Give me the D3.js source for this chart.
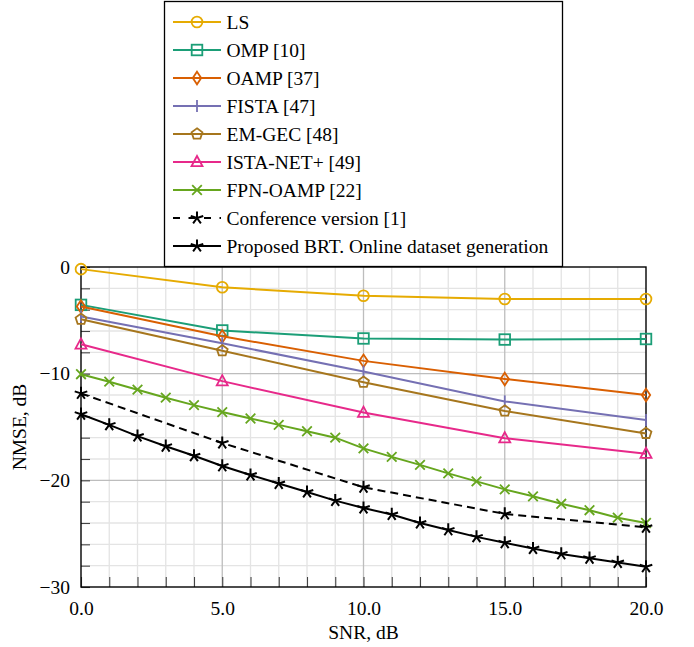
<!DOCTYPE html>
<html>
<head>
<meta charset="utf-8">
<script src="https://cdn.jsdelivr.net/npm/d3@7"></script>
<style>
  html, body { margin: 0; padding: 0; background: #fff; }
  svg text { font-family: "Liberation Serif", "DejaVu Serif", serif; fill: #000; }
</style>
</head>
<body>
<svg id="chart" width="694" height="647"></svg>
<script>
// NMSE versus SNR for the compared channel estimators
const snrCoarse = [0, 5, 10, 15, 20];
const snrFine = d3.range(0, 21, 1);

const lsNmse       = [-0.2, -1.9, -2.7, -3.0, -3.0];
const ompNmse      = [-3.55, -5.95, -6.7, -6.8, -6.75];
const oampNmse     = [-3.7, -6.5, -8.8, -10.5, -12.0];
const fistaNmse    = [-4.65, -7.15, -9.8, -12.6, -14.35];
const emgecNmse    = [-4.9, -7.85, -10.8, -13.5, -15.6];
const istaNetNmse  = [-7.25, -10.7, -13.65, -16.05, -17.5];
const fpnOampNmse  = [-10.05, -10.75, -11.5, -12.25, -12.95, -13.6, -14.2, -14.8, -15.4, -16.0,
                      -17.0, -17.8, -18.55, -19.35, -20.1, -20.85, -21.5, -22.2, -22.8, -23.5, -24.0];
const conferenceNmse = [-11.85, -16.5, -20.65, -23.15, -24.4];
const proposedNmse = [-13.8, -14.8, -15.85, -16.8, -17.7, -18.65, -19.5, -20.3, -21.1, -21.9,
                      -22.6, -23.2, -24.0, -24.65, -25.3, -25.85, -26.4, -26.9, -27.3, -27.7, -28.1];

const xTicks = [0, 5, 10, 15, 20];
const yTicks = [0, -10, -20, -30];

const series = [
  { name: "LS",          x: snrCoarse, y: lsNmse,         color: "#e6ab02", mark: "circle" },
  { name: "OMP [10]",    x: snrCoarse, y: ompNmse,        color: "#1b9e77", mark: "square" },
  { name: "OAMP [37]",   x: snrCoarse, y: oampNmse,       color: "#d95f02", mark: "diamond" },
  { name: "FISTA [47]",  x: snrCoarse, y: fistaNmse,      color: "#7570b3", mark: "bar" },
  { name: "EM-GEC [48]", x: snrCoarse, y: emgecNmse,      color: "#a6761d", mark: "pentagon" },
  { name: "ISTA-NET+ [49]", x: snrCoarse, y: istaNetNmse, color: "#e7298a", mark: "triangle" },
  { name: "FPN-OAMP [22]",  x: snrFine,   y: fpnOampNmse, color: "#66a61e", mark: "cross" },
  { name: "Conference version [1]", x: snrCoarse, y: conferenceNmse, color: "#000", mark: "star", dash: "8,5" },
  { name: "Proposed BRT. Online dataset generation", x: snrFine, y: proposedNmse, color: "#000", mark: "star" }
];

const svg = d3.select("#chart");
const margin = { left: 81, right: 48, top: 267, bottom: 60 };
const W = 694, H = 647;
const x = d3.scaleLinear().domain([0, 20]).range([margin.left, W - margin.right]);
const y = d3.scaleLinear().domain([-30, 0]).range([H - margin.bottom, margin.top]);

// grid
const grid = svg.append("g");
grid.selectAll("line.vminor").data(d3.range(0, 21).filter(v => v % 5 !== 0)).join("line")
  .attr("x1", d => x(d)).attr("x2", d => x(d)).attr("y1", y(-30)).attr("y2", y(0))
  .attr("stroke", "#e4e4e4").attr("stroke-width", 1.3);
grid.selectAll("line.hminor").data(d3.range(-28, 0, 2).filter(v => v % 10 !== 0)).join("line")
  .attr("x1", x(0)).attr("x2", x(20)).attr("y1", d => y(d)).attr("y2", d => y(d))
  .attr("stroke", "#e4e4e4").attr("stroke-width", 1.3);
grid.selectAll("line.vmajor").data([5, 10, 15]).join("line")
  .attr("x1", d => x(d)).attr("x2", d => x(d)).attr("y1", y(-30)).attr("y2", y(0))
  .attr("stroke", "#bdbdbd").attr("stroke-width", 1.3);
grid.selectAll("line.hmajor").data([-10, -20]).join("line")
  .attr("x1", x(0)).attr("x2", x(20)).attr("y1", d => y(d)).attr("y2", d => y(d))
  .attr("stroke", "#bdbdbd").attr("stroke-width", 1.3);

// axes: tick marks inside the frame, labels outside
const fmtX = d3.format(".1f");
const xAxis = d3.axisBottom(x).tickValues(d3.range(0, 21)).tickSizeInner(-10).tickSizeOuter(0)
  .tickFormat(d => xTicks.includes(d) ? fmtX(d) : "").tickPadding(14);
const gx = svg.append("g").attr("transform", `translate(0,${y(-30)})`).call(xAxis);
gx.select(".domain").remove();
gx.selectAll(".tick line").attr("stroke", "#444").attr("stroke-width", 1.1);
gx.selectAll(".tick text").attr("font-size", 19.5).attr("font-family", "Liberation Serif");

const yAxis = d3.axisLeft(y).tickValues(d3.range(-30, 1, 2)).tickSizeInner(-9).tickSizeOuter(0)
  .tickFormat(d => yTicks.includes(d) ? (d < 0 ? "\u2212" + Math.abs(d) : String(d)) : "").tickPadding(11);
const gy = svg.append("g").attr("transform", `translate(${x(0)},0)`).call(yAxis);
gy.select(".domain").remove();
gy.selectAll(".tick line").attr("stroke", "#444").attr("stroke-width", 1.1);
gy.selectAll(".tick text").attr("font-size", 19.5).attr("font-family", "Liberation Serif");

// frame
svg.append("rect").attr("x", x(0)).attr("y", y(0)).attr("width", x(20) - x(0)).attr("height", y(-30) - y(0))
  .attr("fill", "none").attr("stroke", "#000").attr("stroke-width", 1.4);

// marker drawing
function drawMark(g, type, color) {
  const sw = 1.8;
  if (type === "circle") {
    g.append("circle").attr("r", 5.4).attr("fill", "none").attr("stroke", color).attr("stroke-width", sw);
  } else if (type === "square") {
    g.append("rect").attr("x", -5.3).attr("y", -5.3).attr("width", 10.6).attr("height", 10.6)
      .attr("fill", "none").attr("stroke", color).attr("stroke-width", sw);
  } else if (type === "diamond") {
    g.append("path").attr("d", "M0,-6.3L4.2,0L0,6.3L-4.2,0Z").attr("fill", "none").attr("stroke", color).attr("stroke-width", sw);
  } else if (type === "bar") {
    g.append("line").attr("x1", 0).attr("x2", 0).attr("y1", -6).attr("y2", 6).attr("stroke", color).attr("stroke-width", sw);
  } else if (type === "pentagon") {
    const pts = d3.range(5).map(i => {
      const a = -Math.PI / 2 + i * 2 * Math.PI / 5;
      return [5.7 * Math.cos(a), 5.7 * Math.sin(a)];
    });
    g.append("path").attr("d", "M" + pts.join("L") + "Z").attr("fill", "none").attr("stroke", color).attr("stroke-width", sw);
  } else if (type === "triangle") {
    g.append("path").attr("d", "M0,-6L5.5,4.2L-5.5,4.2Z").attr("fill", "none").attr("stroke", color).attr("stroke-width", sw);
  } else if (type === "cross") {
    g.append("path").attr("d", "M-4.8,-4.8L4.8,4.8M-4.8,4.8L4.8,-4.8").attr("stroke", color).attr("stroke-width", sw);
  } else if (type === "star") {
    const d = d3.range(5).map(i => {
      const a = -Math.PI / 2 + i * 2 * Math.PI / 5;
      return `M0,0L${6.6 * Math.cos(a)},${6.6 * Math.sin(a)}`;
    }).join("");
    g.append("path").attr("d", d).attr("stroke", color).attr("stroke-width", 2).attr("stroke-linecap", "butt");
  }
}

// series lines and markers
const line = d3.line().x(d => x(d[0])).y(d => y(d[1]));
const plot = svg.append("g");
series.forEach(s => {
  const pts = s.x.map((v, i) => [v, s.y[i]]);
  plot.append("path").datum(pts).attr("d", line).attr("fill", "none")
    .attr("stroke", s.color).attr("stroke-width", 2)
    .attr("stroke-dasharray", s.dash || null);
  pts.forEach(p => {
    const g = plot.append("g").attr("transform", `translate(${x(p[0])},${y(p[1])})`);
    drawMark(g, s.mark, s.color);
  });
});

// legend
const legend = svg.append("g");
legend.append("rect").attr("x", 164.5).attr("y", 1.5).attr("width", 398).attr("height", 265)
  .attr("fill", "#fff").attr("stroke", "#000").attr("stroke-width", 1.3);
series.forEach((s, i) => {
  const ly = 22 + i * 28;
  const g = legend.append("g").attr("transform", `translate(0,${ly})`);
  g.append("line").attr("x1", 173).attr("x2", 221).attr("y1", 0).attr("y2", 0)
    .attr("stroke", s.color).attr("stroke-width", 2).attr("stroke-dasharray", s.dash ? "7,8.5" : null);
  const m = g.append("g").attr("transform", "translate(197,0)");
  drawMark(m, s.mark, s.color);
  g.append("text").attr("x", 226.5).attr("y", 0).attr("dy", "0.35em")
    .attr("font-size", 19.5).text(s.name);
});

// axis titles
svg.append("text").attr("x", x(10)).attr("y", 639).attr("text-anchor", "middle")
  .attr("font-size", 19.5).text("SNR, dB");
svg.append("text").attr("transform", `translate(26,${y(-15)}) rotate(-90)`).attr("text-anchor", "middle")
  .attr("font-size", 19.5).text("NMSE, dB");
</script>
</body>
</html>
